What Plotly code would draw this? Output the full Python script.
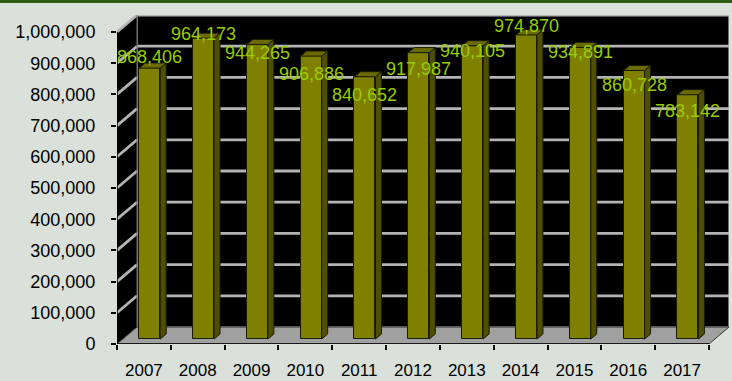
import plotly.graph_objects as go

# ---------------- data ----------------
years = ["2007", "2008", "2009", "2010", "2011", "2012", "2013", "2014", "2015", "2016", "2017"]
values = [868406, 964173, 944265, 906886, 840652, 917987, 940105, 974870, 934891, 860728, 783142]
y_ticks = [0, 100000, 200000, 300000, 400000, 500000, 600000, 700000, 800000, 900000, 1000000]
# label vertical offsets (pixels below bar top), as Excel placed them
label_dy_px = [-11, -4, 9, 18, 18, 16, 5, -9, 5, 14, 16]

# ---------------- geometry ----------------
W, H = 732, 381
ML, MR, MT, MB = 117, 3, 15, 37
plot_w = W - ML - MR
plot_h = H - MT - MB
n = len(years)
YMAX = y_ticks[-1]
DEPTH_PX_X, DEPTH_PX_Y = 20, 17
px_x = (plot_w - DEPTH_PX_X) / n          # pixels per category
px_y = (plot_h - DEPTH_PX_Y) / YMAX        # pixels per value unit
DX = DEPTH_PX_X / px_x                     # depth in category units
DY = DEPTH_PX_Y / px_y                     # depth in value units
XL = -0.5
XR = n - 0.5

FRONT = 0.29      # bar front depth fraction
BDEPTH = 0.30     # bar depth fraction
BW = 21 / px_x    # bar width in category units

BG = "#d9e1da"
OLIVE = "#808000"
OLIVE_SIDE = "#4f4f00"
OLIVE_TOP = "#6a6a00"
GRID = "#b4b4b4"
LABEL = "#99cc00"
FONT = "Liberation Sans, Arial, sans-serif"

shapes = []

def poly(pts, fill, line="rgba(0,0,0,0)", lw=0, layer="below"):
    d = "M " + " L ".join(f"{x},{y}" for x, y in pts) + " Z"
    shapes.append(dict(type="path", path=d, xref="x", yref="y", fillcolor=fill,
                       line=dict(color=line, width=lw), layer=layer))

def seg(x0, y0, x1, y1, color, w, layer="below"):
    shapes.append(dict(type="line", xref="x", yref="y", x0=x0, y0=y0, x1=x1, y1=y1,
                       line=dict(color=color, width=w), layer=layer))

# back wall
poly([(XL + DX, DY), (XR + DX, DY), (XR + DX, YMAX + DY), (XL + DX, YMAX + DY)], "#000000",
     line="#9a9a9a", lw=1.5)
# left wall
poly([(XL, 0), (XL + DX, DY), (XL + DX, YMAX + DY), (XL, YMAX)], "#000000")
# gridlines
for t in y_ticks[1:]:
    seg(XL, t, XL + DX, t + DY, GRID, 2.8)
    seg(XL + DX, t + DY, XR + DX, t + DY, GRID, 2.8)
seg(XL + DX, DY, XL + DX, YMAX + DY, "#707070", 1)
# floor
poly([(XL, 0), (XR, 0), (XR + DX, DY), (XL + DX, DY)], "#a0a0a0", line="#333333", lw=1)
# axis lines
seg(XL, 0, XL, YMAX, "#000000", 1.5, layer="above")
seg(XL, 0, XR, 0, "#000000", 1.5, layer="above")

# bar side and top faces
fx, fy = FRONT * DX, FRONT * DY
bdx, bdy = BDEPTH * DX, BDEPTH * DY
for i, v in enumerate(values):
    xl = i + fx - BW / 2
    xr = i + fx + BW / 2
    yb = fy
    yt = fy + v
    poly([(xr, yb), (xr + bdx, yb + bdy), (xr + bdx, yt + bdy), (xr, yt)], OLIVE_SIDE,
         line="#1a1a00", lw=1, layer="above")
    poly([(xl, yt), (xr, yt), (xr + bdx, yt + bdy), (xl + bdx, yt + bdy)], OLIVE_TOP,
         line="#1a1a00", lw=1, layer="above")

# top green border line
shapes.append(dict(type="line", xref="paper", yref="paper",
                   x0=-ML / plot_w, x1=1 + MR / plot_w,
                   y0=1 + (MT - 1.5) / plot_h, y1=1 + (MT - 1.5) / plot_h,
                   line=dict(color="#2e5e12", width=3), layer="above"))

fig = go.Figure()
fig.add_trace(go.Bar(
    x=years, y=values, base=fy, width=BW, offset=fx - BW / 2,
    marker=dict(color=OLIVE, line=dict(color="#1a1a00", width=1)),
    hoverinfo="skip",
))

annotations = []
for i, (v, dy) in enumerate(zip(values, label_dy_px)):
    annotations.append(dict(
        x=i + fx, y=fy + v, xref="x", yref="y", text=f"{v:,}", showarrow=False,
        yanchor="middle", xanchor="center", yshift=-dy,
        font=dict(family=FONT, size=18, color=LABEL),
    ))

fig.update_layout(
    width=W, height=H,
    margin=dict(l=ML, r=MR, t=MT, b=MB, pad=0, autoexpand=False),
    paper_bgcolor=BG, plot_bgcolor=BG,
    showlegend=False,
    shapes=shapes,
    annotations=annotations,
    font=dict(family=FONT, color="#000000"),
    bargap=0,
    xaxis=dict(
        type="category", categoryorder="array", categoryarray=years,
        range=[XL, XR + DX], showgrid=False, zeroline=False, showline=False,
        ticks="outside", ticklen=5, tickwidth=1.5, tickcolor="#000000",
        tickson="boundaries", tickfont=dict(size=17, family=FONT, color="#000000"),
        ticklabelstandoff=14, fixedrange=True, automargin=False,
    ),
    yaxis=dict(
        range=[0, YMAX + DY], tickvals=y_ticks, tickformat=",",
        showgrid=False, zeroline=False, showline=False,
        ticks="outside", ticklen=5, tickwidth=1.5, tickcolor="#000000",
        tickfont=dict(size=18, family=FONT, color="#000000"),
        ticklabelstandoff=12, fixedrange=True, automargin=False,
    ),
)

fig.write_html("out.html")
